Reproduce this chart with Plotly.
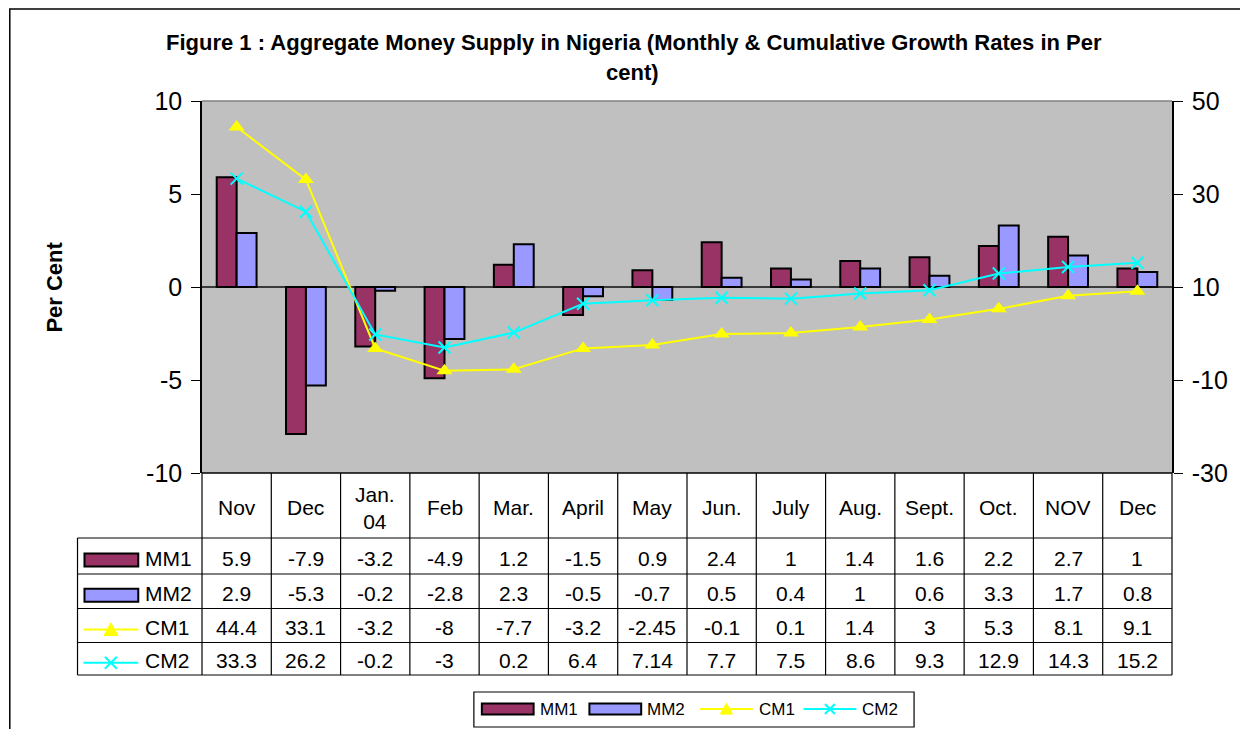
import plotly.graph_objects as go

# ---------------- data ----------------
months = ["Nov", "Dec", "Jan.<br>04", "Feb", "Mar.", "April", "May", "Jun.",
          "July", "Aug.", "Sept.", "Oct.", "NOV", "Dec"]
mm1 = [5.9, -7.9, -3.2, -4.9, 1.2, -1.5, 0.9, 2.4, 1, 1.4, 1.6, 2.2, 2.7, 1]
mm2 = [2.9, -5.3, -0.2, -2.8, 2.3, -0.5, -0.7, 0.5, 0.4, 1, 0.6, 3.3, 1.7, 0.8]
cm1 = [44.4, 33.1, -3.2, -8, -7.7, -3.2, -2.45, -0.1, 0.1, 1.4, 3, 5.3, 8.1, 9.1]
cm2 = [33.3, 26.2, -0.2, -3, 0.2, 6.4, 7.14, 7.7, 7.5, 8.6, 9.3, 12.9, 14.3, 15.2]
series_names = ["MM1", "MM2", "CM1", "CM2"]
left_ticks = [-10, -5, 0, 5, 10]
right_ticks = [-30, -10, 10, 30, 50]
title_line1 = "Figure 1 : Aggregate Money Supply in Nigeria (Monthly & Cumulative Growth Rates in Per"
title_line2 = "cent)"
y_title = "Per Cent"

# ---------------- layout helpers ----------------
W, H = 1240, 729
L, R, T, B = 202, 1176, 101, 473
FONT = "Arial, Liberation Sans, sans-serif"
C_MM1, C_MM2, C_CM1, C_CM2 = "#993366", "#9999FF", "#FFFF00", "#00FFFF"


def px(x):
    return (x - L) / (R - L)


def py(y):
    return (B - y) / (B - T)


idx = list(range(len(months)))

fig = go.Figure()
fig.add_bar(x=idx, y=mm1, name=series_names[0],
            marker=dict(color=C_MM1, line=dict(color="black", width=2)))
fig.add_bar(x=idx, y=mm2, name=series_names[1],
            marker=dict(color=C_MM2, line=dict(color="black", width=2)))
fig.add_scatter(x=idx, y=cm1, name=series_names[2], yaxis="y2", mode="lines+markers",
                line=dict(color=C_CM1, width=2),
                marker=dict(symbol="triangle-up", size=14, color=C_CM1))
fig.add_scatter(x=idx, y=cm2, name=series_names[3], yaxis="y2", mode="lines+markers",
                line=dict(color=C_CM2, width=2),
                marker=dict(symbol="x-thin", size=12, line=dict(color=C_CM2, width=2)))

fig.update_layout(
    width=W, height=H,
    margin=dict(l=L, r=W - R, t=T, b=H - B, pad=0),
    paper_bgcolor="white", plot_bgcolor="#C0C0C0",
    barmode="group", bargap=0.425, bargroupgap=0,
    showlegend=False,
    font=dict(family=FONT, color="black"),
    xaxis=dict(range=[-0.5, len(months) - 0.5], showticklabels=False, showgrid=False,
               zeroline=False, ticks="", showline=False, fixedrange=True),
    yaxis=dict(range=[-10, 10], tickmode="array", tickvals=left_ticks,
               ticktext=[f"{v:g}" for v in left_ticks],
               ticks="outside", ticklen=9,
               tickcolor="black", tickwidth=1.2, showline=True, linecolor="black",
               linewidth=1.5, showgrid=False, zeroline=True, zerolinecolor="#3a3a3a",
               zerolinewidth=1.5, tickfont=dict(size=25, family=FONT),
               ticklabelstandoff=4),
    yaxis2=dict(range=[-30, 50], tickmode="array", tickvals=right_ticks,
                ticktext=[f"{v:g}" for v in right_ticks],
                overlaying="y", side="right",
                ticks="outside", ticklen=9, tickcolor="black", tickwidth=1.2,
                showline=True, linecolor="black", linewidth=1.5, showgrid=False,
                zeroline=False, tickfont=dict(size=25, family=FONT),
                ticklabelstandoff=4),
)

shapes = []
ann = []

# outer chart border
shapes.append(dict(type="rect", xref="paper", yref="paper", x0=px(9), x1=px(1260),
                   y0=py(780), y1=py(9), line=dict(color="black", width=1.5)))
# plot area top border
shapes.append(dict(type="line", xref="paper", yref="paper", x0=0, x1=1, y0=1, y1=1,
                   line=dict(color="#808080", width=1.5)))

# ---------------- data table ----------------
row_lines = [538, 574, 608.5, 642.5, 675]
key_left = 77
shapes.append(dict(type="line", xref="paper", yref="paper", x0=0, x1=1, y0=0, y1=0,
                   line=dict(color="black", width=1.5)))
for ry in row_lines:
    shapes.append(dict(type="line", xref="paper", yref="paper", x0=px(key_left), x1=1,
                       y0=py(ry), y1=py(ry), line=dict(color="black", width=1.2)))
for xv in [0, 1]:
    shapes.append(dict(type="line", xref="paper", yref="paper", x0=xv, x1=xv,
                       y0=0, y1=py(row_lines[-1]), line=dict(color="black", width=1.2)))
for i in range(len(months) - 1):
    shapes.append(dict(type="line", xref="x", yref="paper", x0=i + 0.5, x1=i + 0.5,
                       y0=0, y1=py(row_lines[-1]), line=dict(color="black", width=1.2)))
shapes.append(dict(type="line", xref="paper", yref="paper", x0=px(key_left), x1=px(key_left),
                   y0=py(row_lines[0]), y1=py(row_lines[-1]),
                   line=dict(color="black", width=1.2)))

for i, m in enumerate(months):
    ann.append(dict(x=i, y=py((B + row_lines[0]) / 2 + 2), xref="x", yref="paper",
                    text=m, showarrow=False, font=dict(size=21, family=FONT),
                    xanchor="center", yanchor="middle"))

rows = [mm1, mm2, cm1, cm2]
for r, vals in enumerate(rows):
    yc = (row_lines[r] + row_lines[r + 1]) / 2 + 2
    for i, v in enumerate(vals):
        ann.append(dict(x=i, y=py(yc), xref="x", yref="paper", text=f"{v:g}",
                        showarrow=False, font=dict(size=21, family=FONT),
                        xanchor="center", yanchor="middle"))
    ann.append(dict(x=px(143), y=py(yc), xref="paper", yref="paper", text=series_names[r],
                    showarrow=False, font=dict(size=21, family=FONT),
                    xanchor="left", yanchor="middle"))


def bar_key(x0, x1, yc, h, color):
    shapes.append(dict(type="rect", xref="paper", yref="paper", x0=px(x0), x1=px(x1),
                       y0=py(yc + h / 2), y1=py(yc - h / 2), fillcolor=color,
                       line=dict(color="black", width=2)))


def tri_key(x0, x1, yc, color, s=7):
    xm = (x0 + x1) / 2
    shapes.append(dict(type="line", xref="paper", yref="paper", x0=px(x0), x1=px(x1),
                       y0=py(yc), y1=py(yc), line=dict(color=color, width=2)))
    path = (f"M {px(xm - s)},{py(yc + s * 0.85)} L {px(xm + s)},{py(yc + s * 0.85)} "
            f"L {px(xm)},{py(yc - s * 0.95)} Z")
    shapes.append(dict(type="path", xref="paper", yref="paper", path=path,
                       fillcolor=color, line=dict(color=color, width=1)))


def x_key(x0, x1, yc, color, s=6):
    xm = (x0 + x1) / 2
    shapes.append(dict(type="line", xref="paper", yref="paper", x0=px(x0), x1=px(x1),
                       y0=py(yc), y1=py(yc), line=dict(color=color, width=2)))
    for d in (1, -1):
        shapes.append(dict(type="line", xref="paper", yref="paper", x0=px(xm - s),
                           x1=px(xm + s), y0=py(yc - s * d), y1=py(yc + s * d),
                           line=dict(color=color, width=2)))


ycs = [(row_lines[r] + row_lines[r + 1]) / 2 + 4 for r in range(4)]
bar_key(84, 138, ycs[0], 13, C_MM1)
bar_key(84, 138, ycs[1], 13, C_MM2)
tri_key(83, 138, ycs[2], C_CM1)
x_key(83, 138, ycs[3], C_CM2)

# ---------------- bottom legend ----------------
shapes.append(dict(type="rect", xref="paper", yref="paper", x0=px(475), x1=px(917),
                   y0=py(727), y1=py(692), line=dict(color="black", width=1.2)))
ly = 709
bar_key(483, 535, ly, 11, C_MM1)
bar_key(591, 643, ly, 11, C_MM2)
tri_key(702, 755, ly, C_CM1, s=6)
x_key(806, 859, ly, C_CM2, s=5)
for xt, name in [(539, series_names[0]), (647, series_names[1]),
                 (759, series_names[2]), (863, series_names[3])]:
    ann.append(dict(x=px(xt), y=py(ly), xref="paper", yref="paper", text=name,
                    showarrow=False, font=dict(size=17, family=FONT),
                    xanchor="left", yanchor="middle"))

# ---------------- titles ----------------
ann.append(dict(x=px(636), y=py(43), xref="paper", yref="paper",
                text=f"<b>{title_line1}</b>", showarrow=False,
                font=dict(size=22, family=FONT), xanchor="center", yanchor="middle"))
ann.append(dict(x=px(634), y=py(72), xref="paper", yref="paper",
                text=f"<b>{title_line2}</b>", showarrow=False,
                font=dict(size=22, family=FONT), xanchor="center", yanchor="middle"))
ann.append(dict(x=px(53), y=py(287), xref="paper", yref="paper",
                text=f"<b>{y_title}</b>", showarrow=False, textangle=-90,
                font=dict(size=22, family=FONT), xanchor="center", yanchor="middle"))

fig.update_layout(shapes=shapes, annotations=ann)
fig.write_html("out.html", config={"displayModeBar": False},
               post_script="document.body.style.margin='0';document.body.style.overflow='hidden';")
